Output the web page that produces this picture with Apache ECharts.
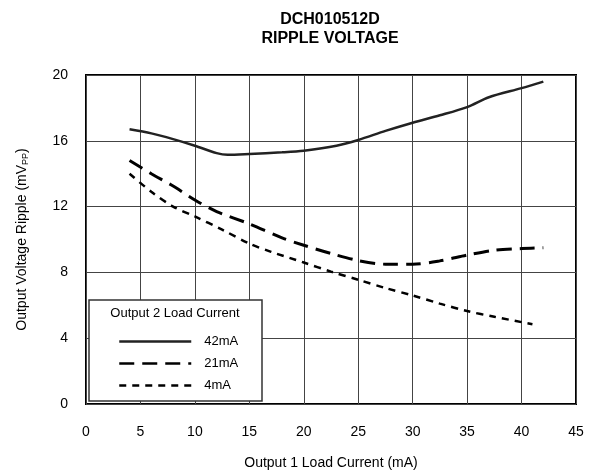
<!DOCTYPE html>
<html>
<head>
<meta charset="utf-8">
<script src="https://cdn.jsdelivr.net/npm/echarts@6/dist/echarts.min.js"></script>
<style>html,body{margin:0;padding:0;background:#fff;}#c{width:594px;height:475px;}</style>
</head>
<body>
<div id="c"></div>
<script>
var xTicks = [0, 5, 10, 15, 20, 25, 30, 35, 40, 45];
var yTicks = [0, 4, 8, 12, 16, 20];
var seriesNames = ['42mA', '21mA', '4mA'];
var x42 = [4, 6, 8, 10, 12, 13, 15, 18, 20, 23, 25, 27.5, 30, 32.5, 35, 37, 40, 42];
var y42 = [16.7, 16.45, 16.1, 15.7, 15.25, 15.15, 15.2, 15.3, 15.4, 15.7, 16.05, 16.6, 17.1, 17.55, 18.05, 18.65, 19.2, 19.6];
var x21 = [4, 6, 8, 10, 12, 15, 18, 20, 22.5, 25, 27.5, 30, 32.5, 35, 37.5, 40, 42];
var y21 = [14.8, 14.0, 13.25, 12.4, 11.7, 10.95, 10.1, 9.65, 9.15, 8.72, 8.5, 8.5, 8.7, 9.05, 9.35, 9.45, 9.5];
var x4 = [4, 6, 8, 10, 12.5, 15, 17, 20, 22.5, 25, 27.5, 30, 32.5, 35, 37.5, 41];
var y4 = [14.0, 12.9, 12.0, 11.4, 10.6, 9.75, 9.25, 8.6, 8.05, 7.55, 7.05, 6.6, 6.1, 5.65, 5.3, 4.85];

function pairs(xs, ys) { return xs.map(function (x, i) { return [x, ys[i]]; }); }
var FONT = 'Liberation Sans, Arial, Helvetica, sans-serif';

var chart = echarts.init(document.getElementById('c'), null, {renderer: 'canvas'});
chart.setOption({
  animation: false,
  textStyle: {fontFamily: FONT},
  grid: {left: 86, right: 18, top: 75, bottom: 69, show: true, borderColor: '#000', borderWidth: 2, containLabel: false},
  graphic: [
    {type: 'text', z: 5, style: {text: 'DCH010512D\nRIPPLE VOLTAGE', x: 330, y: 10, align: 'center', fontFamily: FONT, fontSize: 16, fontWeight: 'bold', lineHeight: 19, fill: '#000'}},
    {type: 'rect', z: 5, shape: {x: 89, y: 300, width: 173, height: 101}, style: {fill: '#fff', stroke: '#333', lineWidth: 1.5}},
    {type: 'text', z: 6, style: {text: 'Output 2 Load Current', x: 175, y: 313, align: 'center', verticalAlign: 'middle', fontFamily: FONT, fontSize: 13, fill: '#000'}}
  ],
  legend: {
    z: 10, orient: 'vertical', left: 113, top: 330, itemWidth: 72, itemHeight: 14, itemGap: 9,
    itemStyle: {opacity: 0},
    lineStyle: {width: 2.5},
    textStyle: {fontFamily: FONT, fontSize: 13, color: '#000', padding: [0, 0, 0, 8]},
    data: seriesNames
  },
  xAxis: {
    type: 'value', min: 0, max: 45, interval: 5,
    name: 'Output 1 Load Current (mA)', nameLocation: 'middle', nameGap: 52,
    nameTextStyle: {fontFamily: FONT, fontSize: 14, color: '#000'},
    axisLine: {show: false}, axisTick: {show: false},
    axisLabel: {margin: 21, fontFamily: FONT, fontSize: 14, color: '#000', formatter: function (v) { return xTicks.indexOf(v) >= 0 ? String(v) : ''; }},
    splitLine: {show: true, lineStyle: {color: '#444', width: 1}}
  },
  yAxis: {
    type: 'value', min: 0, max: 20, interval: 4,
    name: 'Output Voltage Ripple (mV{sub|PP})', nameLocation: 'middle', nameGap: 56,
    nameTextStyle: {fontFamily: FONT, fontSize: 14, color: '#000', rich: {sub: {fontFamily: FONT, fontSize: 9, color: '#000', verticalAlign: 'bottom', padding: [6, 0, 0, 0]}}},
    axisLine: {show: false}, axisTick: {show: false},
    axisLabel: {margin: 18, fontFamily: FONT, fontSize: 14, color: '#000', formatter: function (v) { return yTicks.indexOf(v) >= 0 ? String(v) : ''; }},
    splitLine: {show: true, lineStyle: {color: '#444', width: 1}}
  },
  series: [
    {name: seriesNames[0], type: 'line', data: pairs(x42, y42), smooth: 0.3, showSymbol: false, symbol: 'none', lineStyle: {color: '#222', width: 2.5, type: 'solid'}, itemStyle: {color: '#222'}},
    {name: seriesNames[1], type: 'line', data: pairs(x21, y21), smooth: 0.3, showSymbol: false, symbol: 'none', lineStyle: {color: '#000', width: 3, type: [15, 8]}, itemStyle: {color: '#000'}},
    {name: seriesNames[2], type: 'line', data: pairs(x4, y4), smooth: 0.3, showSymbol: false, symbol: 'none', lineStyle: {color: '#000', width: 2.5, type: [7, 6]}, itemStyle: {color: '#000'}}
  ]
});
</script>
</body>
</html>
